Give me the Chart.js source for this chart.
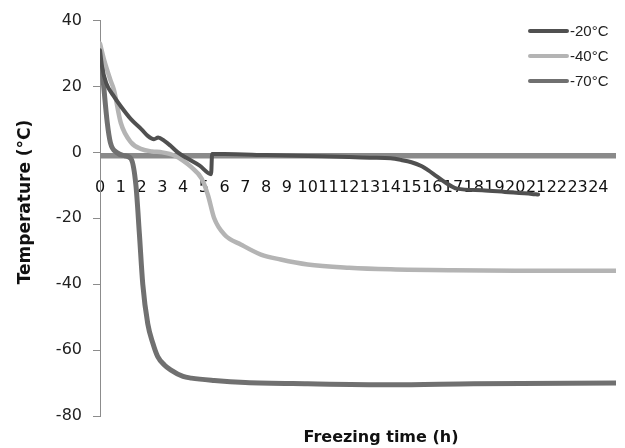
<!DOCTYPE html>
<html>
<head>
<meta charset="utf-8">
<script src="https://cdn.jsdelivr.net/npm/chart.js@4/dist/chart.umd.min.js"></script>
<style>
html,body{margin:0;padding:0;background:#fff;}
#wrap{width:625px;height:448px;position:relative;}
</style>
</head>
<body>
<div id="wrap"><canvas id="c" width="625" height="448"></canvas></div>
<script>
// ---- data ----
const seriesNames = ["-20\u00B0C", "-40\u00B0C", "-70\u00B0C"];
const xTickLabels = [0,1,2,3,4,5,6,7,8,9,10,11,12,13,14,15,16,17,18,19,20,21,22,23,24];
const yTickLabels = [40,20,0,-20,-40,-60,-80];

const t20 = [0,0.1,0.3,0.67,1.0,1.5,2.0,2.3,2.6,2.8,3.1,3.4,3.75,4.2,4.8,5.35,5.4,6,8,10,12,13,14,14.5,15,15.5,15.8,16.2,16.6,17.2,18.4,19.5,20.8,21.1];
const v20 = [31,26,21,17,14,10,7,5,4,4.5,3.5,2,0,-1.8,-4,-6.6,-0.5,-0.5,-0.8,-1.1,-1.4,-1.6,-1.8,-2.3,-3,-4.2,-5.4,-7.2,-9,-11,-11.5,-12,-12.6,-12.8];

const t40 = [0,0.2,0.5,0.67,1.0,1.5,2.0,2.5,3.0,3.6,4.0,4.4,4.9,5.2,5.5,6.0,6.8,7.75,8.7,10,12,14,17,20,24.85];
const v40 = [33,28,22,19,9,3,1,0.3,0,-1,-2.5,-4.5,-8,-13,-20,-25,-28,-31,-32.5,-34,-35,-35.5,-35.8,-35.9,-35.9];

const t70 = [0,0.15,0.35,0.5,0.8,1.2,1.5,1.73,1.9,2.06,2.3,2.55,2.78,3.1,3.4,4.0,4.4,5.5,7,10,14,18,24.85];
const v70 = [32,22,9,3,0,-1,-2,-10,-25,-40,-52,-58,-62,-64.5,-66,-68,-68.5,-69.2,-69.8,-70.2,-70.5,-70.2,-70];

const tRef = [0,24.85];
const vRef = [-1,-1];

const toXY = (ts, vs) => ts.map((t, i) => ({x: t, y: vs[i]}));

const colors = ["#505050", "#b4b4b4", "#707070"];

const overlay = {
  id: 'overlay',
  afterDraw(chart) {
    const ctx = chart.ctx;
    ctx.save();
    // x title
    ctx.fillStyle = '#111';
    ctx.font = 'bold 16px "DejaVu Sans"';
    ctx.textAlign = 'center';
    ctx.textBaseline = 'middle';
    ctx.fillText('Freezing time (h)', 381, 438);
    // y title
    ctx.save();
    ctx.translate(26, 202);
    ctx.rotate(-Math.PI / 2);
    ctx.font = 'bold 17px "DejaVu Sans"';
    ctx.fillText('Temperature (\u00B0C)', 0, 0);
    ctx.restore();
    // legend
    const rows = [31, 56, 81];
    for (let i = 0; i < 3; i++) {
      const ds = chart.data.datasets[i];
      ctx.strokeStyle = ds.borderColor;
      ctx.lineWidth = 4;
      ctx.lineCap = 'round';
      ctx.beginPath();
      ctx.moveTo(530, rows[i]);
      ctx.lineTo(567, rows[i]);
      ctx.stroke();
      ctx.fillStyle = '#222';
      ctx.font = '15px "Liberation Sans"';
      ctx.textAlign = 'left';
      ctx.textBaseline = 'middle';
      ctx.fillText(ds.label, 570, rows[i] + 1);
    }
    ctx.restore();
  }
};

new Chart(document.getElementById('c'), {
  type: 'line',
  data: {
    datasets: [
      {label: seriesNames[0], data: toXY(t20, v20), borderColor: colors[0], borderWidth: 4},
      {label: seriesNames[1], data: toXY(t40, v40), borderColor: colors[1], borderWidth: 4.5},
      {label: seriesNames[2], data: toXY(t70, v70), borderColor: colors[2], borderWidth: 5},
      {label: 'ref', data: toXY(tRef, vRef), borderColor: '#8a8a8a', borderWidth: 5.5}
    ]
  },
  options: {
    responsive: false,
    animation: false,
    events: [],
    layout: {padding: {top: 17, right: 9, left: 0, bottom: 0}},
    elements: {
      point: {radius: 0},
      line: {cubicInterpolationMode: 'monotone', borderCapStyle: 'round', borderJoinStyle: 'round'}
    },
    plugins: {legend: {display: false}, tooltip: {enabled: false}},
    scales: {
      x: {
        type: 'linear',
        position: 'bottom',
        min: 0,
        max: 24.85,
        grid: {display: false},
        border: {display: false},
        afterFit(s) { s.height = 32; s.paddingLeft = 0; s.paddingRight = 0; },
        afterBuildTicks(s) { s.ticks = xTickLabels.map(v => ({value: v})); },
        ticks: {
          autoSkip: false, maxRotation: 0, minRotation: 0,
          mirror: true,
          padding: 218.4,
          color: '#111',
          font: {family: '"DejaVu Sans"', size: 16},
          callback: v => String(v)
        }
      },
      y: {
        type: 'linear',
        position: 'left',
        min: -80,
        max: 40,
        afterFit(s) { s.width = 100; },
        afterBuildTicks(s) { s.ticks = yTickLabels.map(v => ({value: v})); },
        grid: {drawOnChartArea: false, drawTicks: true, tickLength: 7, color: '#8c8c8c'},
        border: {display: true, color: '#8c8c8c', width: 1},
        ticks: {
          padding: 11,
          color: '#222',
          font: {family: '"DejaVu Sans"', size: 16},
          callback: v => String(v)
        }
      }
    }
  },
  plugins: [overlay]
});
</script>
</body>
</html>
